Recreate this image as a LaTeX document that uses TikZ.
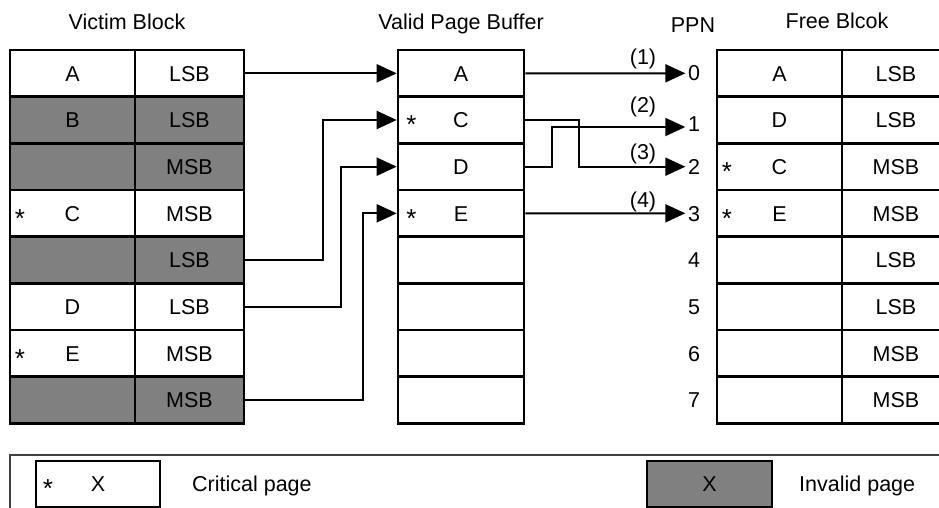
\documentclass[tikz,border=0pt]{standalone}
\usepackage{fontspec}
\setmainfont{Liberation Sans}
\usetikzlibrary{arrows.meta}
\definecolor{invgray}{HTML}{808080}
\begin{document}
\begin{tikzpicture}[x=1pt,y=-1pt,
  base/.style={font=\fontsize{21.5}{24}\selectfont, text height=15.4pt, text depth=0pt, inner sep=0pt},
  cell/.style={base, draw, line width=2.6pt, minimum height=46.67pt},
  starmark/.style={base, font=\fontsize{26}{28}\selectfont, yshift=-6pt},
  conn/.style={line width=2pt, -{Triangle[length=20pt,width=18pt]}},
  ppn/.style={base, inner xsep=2.5pt},
  legline/.style={line width=1.3pt, draw=black!75}]
\clip (0,0) rectangle (939,508);
% headings
\node[base] (hv) at (127,22) {Victim Block};
\node[base] (hb) at (461,22) {Valid Page Buffer};
\node[base] (hp) at (693,24.5) {PPN};
\node[base] (hf) at (837,20.5) {Free Blcok};
% victim block
\foreach \i/\a/\b/\g in {1/A/LSB/white, 2/B/LSB/invgray, 3//MSB/invgray, 4/C/MSB/white, 5//LSB/invgray, 6/D/LSB/white, 7/E/MSB/white, 8//MSB/invgray} {
  \node[cell, fill=\g, minimum width=125pt] (va\i) at (72.5, {50+46.667*(\i-0.5)}) {\a};
  \node[cell, fill=\g, minimum width=109pt] (vb\i) at (189.5, {50+46.667*(\i-0.5)}) {\b};
}
\node[starmark] (vs4) at (20,213.3) {*};
\node[starmark] (vs7) at (20,353.3) {*};
% valid page buffer
\foreach \i/\a in {1/A, 2/C, 3/D, 4/E, 5/, 6/, 7/, 8/} {
  \node[cell, fill=white, minimum width=126pt] (b\i) at (461, {50+46.667*(\i-0.5)}) {\a};
}
\node[starmark] (bs2) at (411.5,120) {*};
\node[starmark] (bs4) at (411.5,213.3) {*};
% free block
\foreach \i/\a/\b in {1/A/LSB, 2/D/LSB, 3/C/MSB, 4/E/MSB, 5//LSB, 6//LSB, 7//MSB, 8//MSB} {
  \node[cell, fill=white, minimum width=125pt] (fa\i) at (779.5, {50+46.667*(\i-0.5)}) {\a};
  \node[cell, fill=white, minimum width=108pt] (fb\i) at (896, {50+46.667*(\i-0.5)}) {\b};
}
\node[starmark] (fs3) at (727,166.7) {*};
\node[starmark] (fs4) at (727,213.3) {*};
% PPN numbers
\node[ppn] (p0) at (694,73.3) {0};
\node[ppn] (p1) at (694,124) {1};
\node[ppn] (p2) at (694,166.7) {2};
\node[ppn] (p3) at (694,213.3) {3};
\node[ppn] (p4) at (694,260) {4};
\node[ppn] (p5) at (694,306.7) {5};
\node[ppn] (p6) at (694,353.3) {6};
\node[ppn] (p7) at (694,400) {7};
% step labels
\node[base] (l1) at (643,57) {(1)};
\node[base] (l2) at (643,105) {(2)};
\node[base] (l3) at (643,152) {(3)};
\node[base] (l4) at (643,200) {(4)};
% connectors victim -> buffer
\draw[conn] (vb1.east) -- (b1.west);
\draw[conn] (vb5.east) -- ++(78,0) |- (b2.west);
\draw[conn] (vb6.east) -- ++(96,0) |- (b3.west);
\draw[conn] (vb8.east) -- ++(118,0) |- (b4.west);
% connectors buffer -> PPN
\draw[conn] (b1.east) -- (p0.west);
\draw[conn] (b2.east) -- ++(54,0) |- (p2.west);
\draw[conn] (b3.east) -- ++(27,0) |- ([yshift=-3pt]p1.west);
\draw[conn] (b4.east) -- (p3.west);
% legend
\draw[legline] (10,510) -- (10,455) -- (950,455);
\node[cell, fill=white, minimum width=124pt, minimum height=46pt] (lc) at (98,484) {X};
\node[starmark] (ls) at (48,484) {*};
\node[base, anchor=west] (lct) at (192,484) {Critical page};
\node[cell, fill=invgray, minimum width=125pt, minimum height=46pt] (li) at (709.5,484) {X};
\node[base, anchor=west] (lit) at (799,484) {Invalid page};
\end{tikzpicture}
\end{document}
